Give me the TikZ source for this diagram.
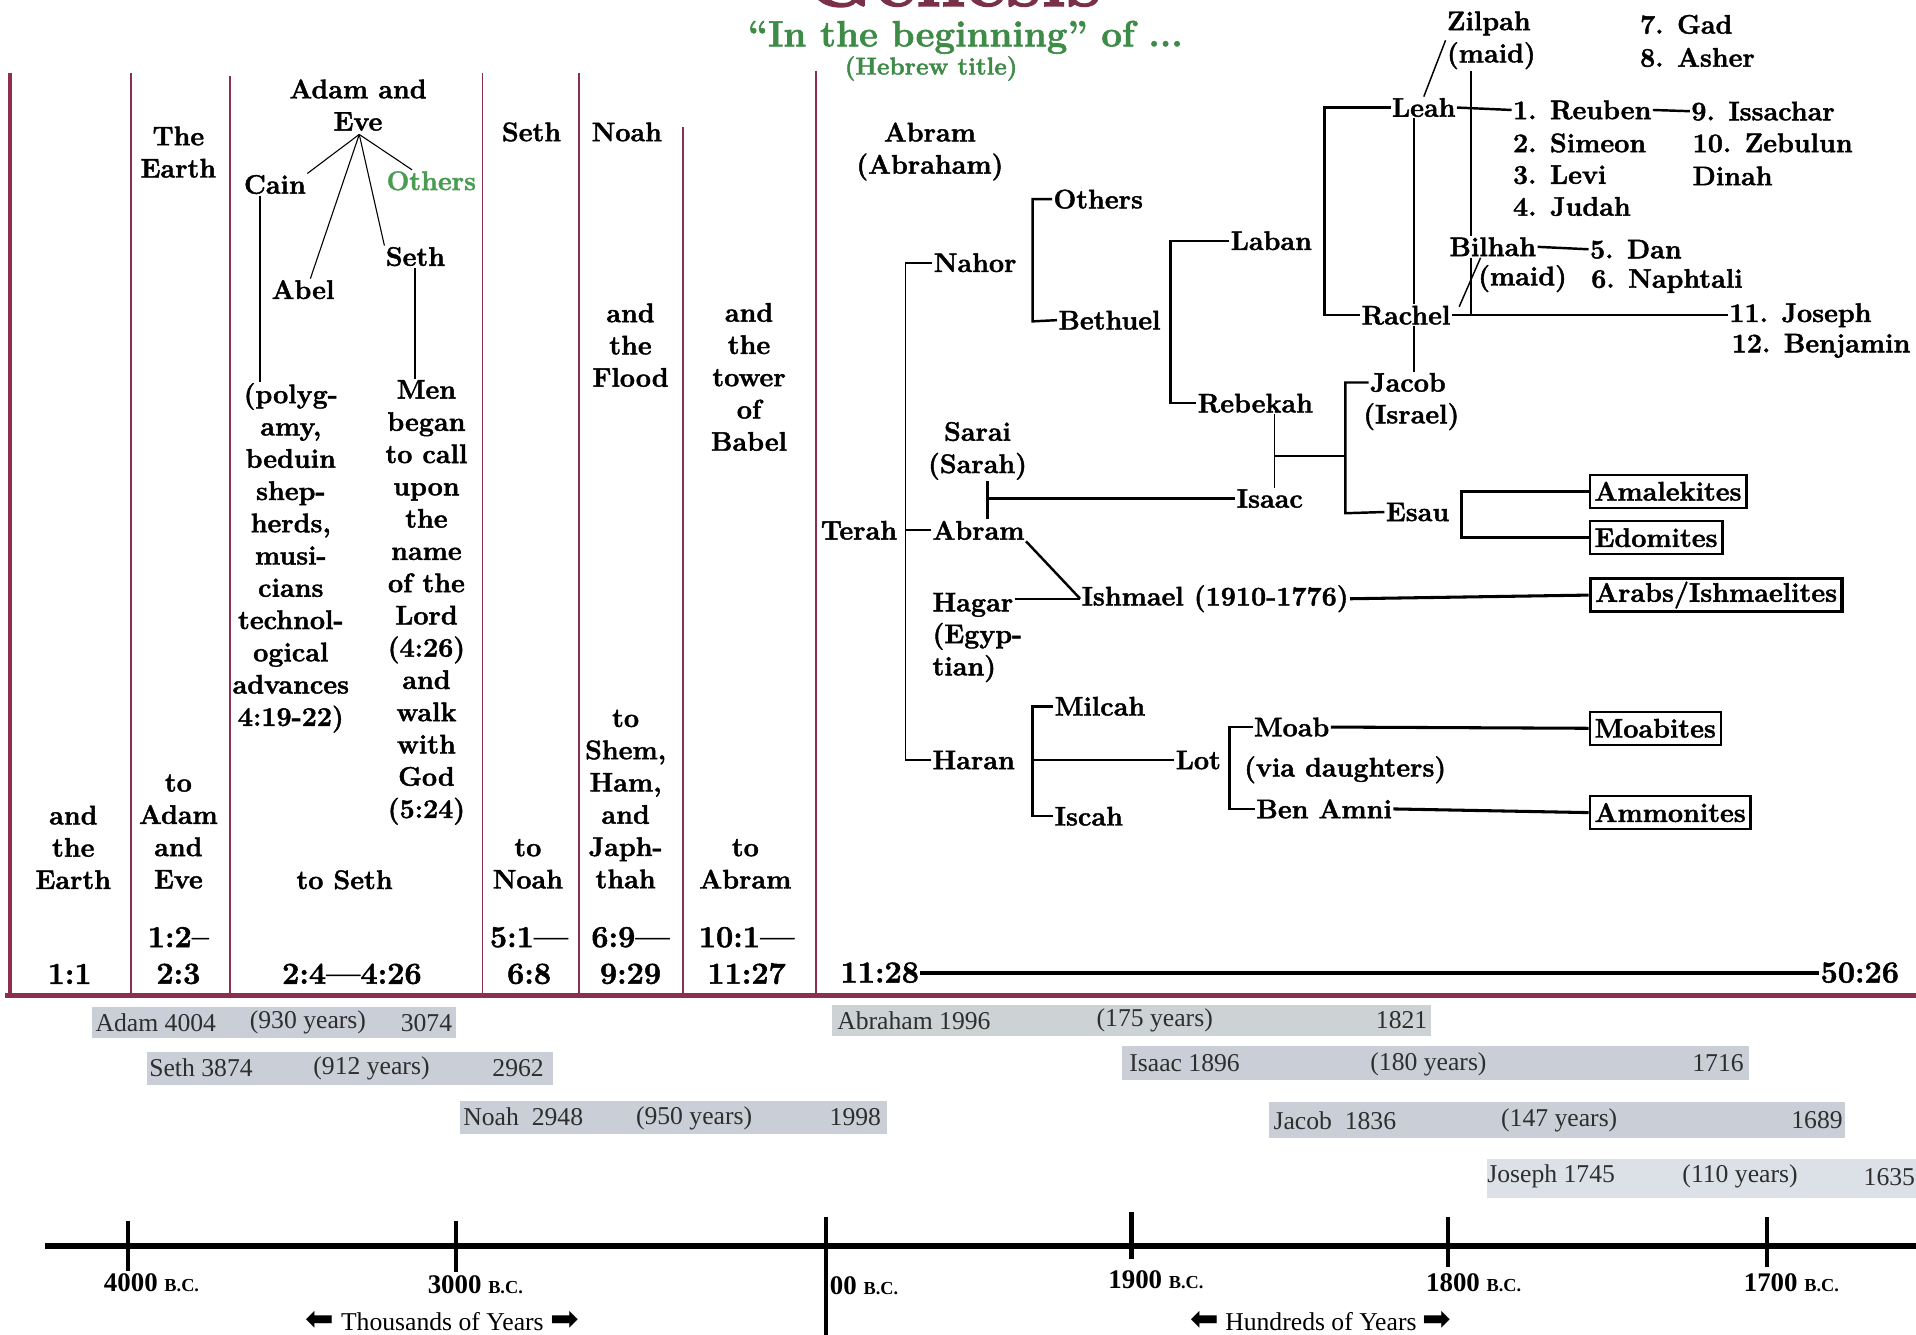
\documentclass[tikz,border=0pt]{standalone}
\usepackage{fontspec}
\setmainfont{Latin Modern Roman}[BoldFeatures={FakeBold=1.6}]
\newfontfamily\tnr{Liberation Serif}
\newfontfamily\dvs{DejaVu Sans}
\usetikzlibrary{calc}
\definecolor{maroon}{HTML}{8C2F4E}
\definecolor{gen}{HTML}{7A3148}
\definecolor{grn}{HTML}{3E8B47}
\definecolor{grn2}{HTML}{4A9C52}
\definecolor{barc}{HTML}{C9CED7}
\definecolor{barg}{HTML}{CDD3D4}
\definecolor{barl}{HTML}{DCE1E8}
\definecolor{bart}{HTML}{2E2E2E}
\tikzset{
 tx/.style={font=\fontsize{22}{26.4}\selectfont\bfseries, inner sep=1pt, align=center},
 vs/.style={font=\fontsize{25}{30}\selectfont\bfseries, inner sep=1pt, align=center},
 fm/.style={font=\fontsize{22}{26.4}\selectfont\bfseries, inner sep=1pt, anchor=west},
 fml/.style={fm, align=left},
 br/.style={line width=2pt, line join=miter},
 thinl/.style={line width=0.9pt},
 colline/.style={draw=maroon, line width=1.3pt},
 tribe/.style={fm, draw, line width=2pt, inner xsep=4pt, inner ysep=2pt, minimum height=27pt},
 lifebar/.style={fill=barc, draw=none, inner sep=0pt, anchor=north west},
 yr/.style={font=\fontsize{21}{24}\selectfont\tnr, text=bart, inner sep=0pt},
 axl/.style={font=\fontsize{22}{26}\selectfont\tnr\bfseries, inner sep=0pt},
 capt/.style={font=\fontsize{21}{24}\selectfont\tnr, inner sep=0pt},
 tk/.style={line width=3.5pt},
}
\begin{document}
\begin{tikzpicture}[x=1pt,y=-1pt]
\fill[white] (0,0) rectangle (1568,1092.5);
\useasboundingbox (0,0) rectangle (1568,1092.5);

% ---------- title ----------
\begin{scope}
\clip (0,0) rectangle (1568,1092.5);
\node[font=\fontsize{65}{70}\selectfont\bfseries, text=gen, anchor=base, inner sep=0] (genesis) at (780,5) {Genesis};
\end{scope}
\node[font=\fontsize{30}{34}\selectfont\bfseries, text=grn, anchor=base, inner sep=0] (ttl) at (790,38) {“In the beginning” of ...};
\node[font=\fontsize{20}{24}\selectfont\bfseries, text=grn, anchor=base, inner sep=0] (heb) at (762,61) {(Hebrew title)};

% ---------- table frame ----------
\foreach \xx/\yy in {107/60,188/62,395/60,474/60,559/104,668/58}
  \draw[colline] (\xx,\yy) -- (\xx,815);
\draw[draw=maroon, line width=3pt] (8,60) -- (8,815);
\draw[draw=maroon, line width=4pt] (4,815) -- (1568,815);

% column 1
\node[tx] (c1a) at (60,693.5) {and\\the\\Earth};
\node[vs] (c1v) at (57,797) {1:1};
% column 2
\node[tx] (c2h) at (146,124.5) {The\\Earth};
\node[tx] (c2a) at (146,680.5) {to\\Adam\\and\\Eve};
\node[vs] (c2v) at (146,782) {1:2–\\2:3};
% column 3
\node[tx] (ae) at (293,86) {Adam and\\Eve};
\node[tx] (cain) at (225,151) {Cain};
\node[tx, text=grn2] (oth) at (353,148) {Others};
\node[tx] (sethA) at (340,210) {Seth};
\node[tx] (abel) at (248,237) {Abel};
\node[tx] (caint) at (238,456.5) {(polyg-\\amy,\\beduin\\shep-\\herds,\\musi-\\cians\\technol-\\ogical\\advances\\4:19-22)};
\node[tx] (ment) at (349,493) {Men\\began\\to call\\upon\\the\\name\\of the\\Lord\\(4:26)\\and\\walk\\with\\God\\(5:24)};
\node[tx] (c3a) at (282,720) {to Seth};
\node[vs] (c3v) at (288,797) {2:4—4:26};
\coordinate (ev) at (294,110);
\draw[thinl] (ev) -- (cain.north east);
\draw[thinl] (ev) -- ($(abel.north)+(6,0)$);
\draw[thinl] (ev) -- (sethA.north west);
\draw[thinl] (ev) -- ($(oth.north west)+(22,0)$);
\draw[line width=1.6pt] ([xshift=-12pt]cain.south) -- ([xshift=-12pt]cain.south |- caint.north);
\draw[line width=1.6pt] (sethA.south) -- (sethA.south |- ment.north);
% column 4
\node[tx] (c4h) at (435,108) {Seth};
\node[tx] (c4a) at (432,707) {to\\Noah};
\node[vs] (c4v) at (433,782) {5:1—\\6:8};
% column 5
\node[tx] (c5h) at (513,108) {Noah};
\node[tx] (c5m) at (516,282.5) {and\\the\\Flood};
\node[tx] (c5a) at (512,654) {to\\Shem,\\Ham,\\and\\Japh-\\thah};
\node[vs] (c5v) at (516,782) {6:9—\\9:29};
% column 6
\node[tx] (c6m) at (613,308.5) {and\\the\\tower\\of\\Babel};
\node[tx] (c6a) at (610,707) {to\\Abram};
\node[vs] (c6v) at (611,782) {10:1—\\11:27};
% column 7
\node[tx] (c7h) at (761,124) {Abram\\(Abraham)};
\node[vs] (v1128) at (720,796) {11:28};
\node[vs] (v5026) at (1522,796) {50:26};
\draw[line width=3.5pt] (v1128.east) -- (v5026.west);

% ---------- family tree ----------
\node[tx] (terah) at (703,434) {Terah};
\coordinate (tsp1) at (741,215);
\coordinate (tsp2) at (741,622);
\node[fm] (nahor) at (763,215) {Nahor};
\node[fm] (abram) at (762,434) {Abram};
\node[fm] (haran) at (762,622) {Haran};
\draw[line width=1.5pt] (nahor.west) -- (tsp1) -- (tsp2) -- (haran.west);
\draw[line width=1.5pt] (tsp1 |- abram.west) -- (abram.west);

\node[fm] (others) at (861,163) {Others};
\node[fm] (bethuel) at (865,262) {Bethuel};
\draw[br] (others.west) -- (845,163) -- (845,263) -- (bethuel.west);

\node[fm] (laban) at (1006,197) {Laban};
\node[fm] (rebekah) at (979,330) {Rebekah};
\draw[br] (laban.west) -- (958,197) -- (958,330) -- (rebekah.west);

\node[fm] (leah) at (1138,88) {Leah};
\node[fm] (rachel) at (1113,258) {Rachel};
\draw[br] (leah.west) -- (1084,88) -- (1084,258) -- (rachel.west);

\node[fm] (jacob) at (1120,313) {Jacob};
\node[tx] (israel) at (1155,341) {(Israel)};
\coordinate (jx) at (1157,0);
\draw[line width=1.5pt] (leah.south -| jx) -- (rachel.north -| jx);
\draw[line width=1.5pt] (rachel.south -| jx) -- (jacob.north -| jx);

\node[fml] (zilpah) at (1183,33) {Zilpah\\(maid)};
\draw[line width=1.2pt] (zilpah.west) -- (leah.north);
\node[fm] (gad) at (1341,20) {7. Gad};
\node[fm] (asher) at (1341,47) {8. Asher};

\node[fm] (reuben) at (1237,90) {1. Reuben};
\draw[br] (leah.east) -- (reuben.west);
\node[fm] (simeon) at (1237,117) {2. Simeon};
\node[fm] (levi) at (1237,143) {3. Levi};
\node[fm] (judah) at (1237,169) {4. Judah};
\node[fm] (issachar) at (1383,91) {9. Issachar};
\draw[br] (reuben.east) -- (issachar.west);
\node[fm] (zebulun) at (1384,117) {10. Zebulun};
\node[fm] (dinah) at (1384,144) {Dinah};

\node[fm] (bilhah) at (1185,202) {Bilhah};
\node[tx] (bmaid) at (1246,228) {(maid)};
\node[fm] (dan) at (1300,204) {5. Dan};
\node[fm] (naph) at (1301,230) {6. Naphtali};
\draw[br] (bilhah.east) -- (dan.west);
\coordinate (kx) at (1204,0);
\draw[br] (zilpah.south -| kx) -- (bilhah.north -| kx);
\draw[br] (bilhah.south -| kx) -- (rachel.east -| kx);
\draw[line width=1.2pt] ($(bilhah.south)+(-10,0)$) -- ($(rachel.north east)+(6,2)$);

\node[fm] (joseph) at (1414,258) {11. Joseph};
\node[fm] (benjamin) at (1416,283) {12. Benjamin};
\draw[br] (rachel.east) -- (joseph.west);

\node[fm] (isaac) at (1011,408) {Isaac};
\node[fm] (esau) at (1133,419) {Esau};
\coordinate (jb1) at (1101,313);
\coordinate (jb2) at (1101,420);
\draw[br] (jacob.west) -- (jb1) -- (jb2) -- (esau.west);
\coordinate (rx) at (1043,0);
\coordinate (ri) at (1043,373);
\draw[line width=1.5pt] (rebekah.south -| rx) -- (isaac.north -| rx);
\draw[line width=1.5pt] (ri) -- (ri -| jb1);

\node[tx] (sarai) at (800,369) {Sarai\\(Sarah)};
\coordinate (sj) at (808,408);
\draw[br] (sj |- sarai.south) -- (sj |- abram.north);
\draw[line width=2.5pt] (sj) -- (isaac.west);

\node[tribe] (amal) at (1300,402) {Amalekites};
\node[tribe] (edom) at (1300,440) {Edomites};
\node[tribe, line width=3pt] (arabs) at (1300,487) {Arabs/Ishmaelites};
\node[tribe] (moabites) at (1300,596) {Moabites};
\node[tribe] (ammon) at (1300,665) {Ammonites};
\draw[line width=2.5pt] (amal.west) -- (1196,402) -- (1196,440) -- (edom.west);

\node[fm] (hagar) at (762,495) {Hagar};
\node[fml] (egyp) at (762,534) {(Egyp-\\tian)};
\node[fm] (ishmael) at (884,490) {Ishmael (1910-1776)};
\draw[br] (abram.south east) -- (ishmael.west);
\draw[br] (hagar.east |- ishmael.west) -- (ishmael.west);
\draw[line width=2.5pt] (ishmael.east) -- (arabs.west);

\node[fm] (milcah) at (862,578) {Milcah};
\node[fm] (iscah) at (862,668) {Iscah};
\node[fm] (lot) at (961,622) {Lot};
\coordinate (hb) at (845,622);
\draw[br] (milcah.west) -- (845,578) -- (845,668) -- (iscah.west);
\draw[br] (hb) -- (lot.west);

\node[fm] (moab) at (1025,595) {Moab};
\node[fm] (benamni) at (1027,662) {Ben Amni};
\node[fm] (via) at (1017,630) {(via daughters)};
\draw[br] (moab.west) -- (1006,595) -- (1006,662) -- (benamni.west);
\draw[line width=2.5pt] (moab.east) -- (moabites.west);
\draw[line width=2.5pt] (benamni.east) -- (ammon.west);

% ---------- life spans ----------
\node[lifebar, minimum width=298pt, minimum height=25pt] (adambar) at (75,824) {};
\node[yr, anchor=west] (adam1) at (78,837) {Adam 4004};
\node[yr] (adam2) at (252,837) {(930 years)};
\node[yr] (adam3) at (349,837) {3074};

\node[lifebar, minimum width=332pt, minimum height=27pt] (sethbar) at (120,861) {};
\node[yr, anchor=west] (seth1) at (122,874) {Seth 3874};
\node[yr] (seth2) at (304,874) {(912 years)};
\node[yr] (seth3) at (424,874) {2962};

\node[lifebar, minimum width=350pt, minimum height=27pt] (noahbar) at (376,901) {};
\node[yr, anchor=west] (noah1) at (379,914) {Noah\ \ 2948};
\node[yr] (noah2) at (568,915) {(950 years)};
\node[yr] (noah3) at (700,914) {1998};

\node[lifebar, fill=barg, minimum width=490pt, minimum height=26pt] (abrbar) at (681,822) {};
\node[yr, anchor=west] (abr1) at (685,835) {Abraham 1996};
\node[yr] (abr2) at (945,835) {(175 years)};
\node[yr] (abr3) at (1147,835) {1821};

\node[lifebar, minimum width=513pt, minimum height=28pt] (isaacbar) at (918,856) {};
\node[yr, anchor=west] (isa1) at (924,870) {Isaac 1896};
\node[yr] (isa2) at (1169,871) {(180 years)};
\node[yr] (isa3) at (1406,870) {1716};

\node[lifebar, minimum width=472pt, minimum height=29pt] (jacobbar) at (1038,902) {};
\node[yr, anchor=west] (jac1) at (1042,917) {Jacob\ \ 1836};
\node[yr] (jac2) at (1276,917) {(147 years)};
\node[yr] (jac3) at (1487,917) {1689};

\node[lifebar, fill=barl, minimum width=351pt, minimum height=32pt] (josbar) at (1217,948) {};
\node[yr, anchor=west] (jos1) at (1217,963) {Joseph 1745};
\node[yr] (jos2) at (1424,963) {(110 years)};
\node[yr, anchor=west] (jos3) at (1525,963) {1635};

% ---------- time axis ----------
\coordinate (ax0) at (37,1020);
\coordinate (ax1) at (1568,1020);
\draw[line width=5pt] (ax0) -- (ax1);
\coordinate (t4000) at (105,1020);
\coordinate (t3000) at (373,1020);
\coordinate (t2000) at (676,1020);
\coordinate (t1900) at (926,1020);
\coordinate (t1800) at (1185,1020);
\coordinate (t1700) at (1446,1020);
\draw[tk] ($(t4000)+(0,-21)$) -- ($(t4000)+(0,20)$);
\draw[tk] ($(t3000)+(0,-21)$) -- ($(t3000)+(0,21)$);
\draw[tk] ($(t2000)+(0,-24)$) -- ($(t2000)+(0,73)$);
\draw[tk] ($(t1900)+(0,-28)$) -- ($(t1900)+(0,10)$);
\draw[tk] ($(t1800)+(0,-24)$) -- ($(t1800)+(0,17)$);
\draw[tk] ($(t1700)+(0,-24)$) -- ($(t1700)+(0,17)$);
\node[axl] (l4000) at (124,1050) {4000 {\fontsize{15}{18}\selectfont B.C.}};
\node[axl] (l3000) at (389,1051) {3000 {\fontsize{15}{18}\selectfont B.C.}};
\node[axl, anchor=west] (l2000) at (679,1052) {00 {\fontsize{15}{18}\selectfont B.C.}};
\node[axl] (l1900) at (946,1047) {1900 {\fontsize{15}{18}\selectfont B.C.}};
\node[axl] (l1800) at (1206,1050) {1800 {\fontsize{15}{18}\selectfont B.C.}};
\node[axl] (l1700) at (1466,1050) {1700 {\fontsize{15}{18}\selectfont B.C.}};
\node[capt] (thous) at (362,1081) {{\dvs\fontsize{28}{28}\selectfont ⬅}\ Thousands of Years\ {\dvs\fontsize{28}{28}\selectfont ➡}};
\node[capt] (hund) at (1081,1081) {{\dvs\fontsize{28}{28}\selectfont ⬅}\ Hundreds of Years\ {\dvs\fontsize{28}{28}\selectfont ➡}};
\end{tikzpicture}
\end{document}
